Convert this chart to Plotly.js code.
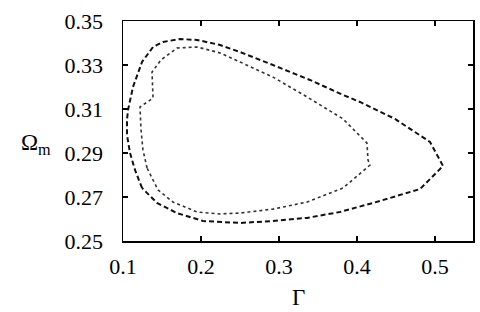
<!DOCTYPE html>
<html>
<head>
<meta charset="utf-8">
<script src="https://cdn.plot.ly/plotly-3.0.1.min.js"></script>
<style>html,body{margin:0;padding:0;background:#fff;}#chart{width:480px;height:312px;}</style>
</head>
<body>
<div id="chart"></div>
<script>
// Outer contour (dashed)
const outerGamma = [0.1244,0.1154,0.1090,0.1051,0.1051,0.1064,0.1128,0.1244,0.1385,0.1513,0.1731,0.1949,0.2244,0.2500,0.2923,0.3397,0.3821,0.4038,0.4487,0.4936,0.5103,0.4808,0.4205,0.3782,0.3359,0.2923,0.2500,0.2026,0.1692,0.1436,0.1244];
const outerOmega = [0.2741,0.2823,0.2900,0.2982,0.3050,0.3095,0.3200,0.3314,0.3382,0.3405,0.3418,0.3414,0.3391,0.3359,0.3300,0.3232,0.3164,0.3132,0.3055,0.2950,0.2841,0.2736,0.2673,0.2632,0.2605,0.2591,0.2582,0.2591,0.2627,0.2673,0.2741];
// Inner contour (dotted)
const innerGamma = [0.1308,0.1256,0.1231,0.1218,0.1385,0.1372,0.1487,0.1692,0.1949,0.2244,0.2500,0.2923,0.3359,0.3821,0.4128,0.4141,0.4167,0.3821,0.3359,0.2923,0.2500,0.2244,0.1949,0.1641,0.1449,0.1308];
const innerOmega = [0.2832,0.2914,0.3005,0.3109,0.3150,0.3268,0.3323,0.3377,0.3382,0.3355,0.3314,0.3245,0.3155,0.3055,0.2945,0.2868,0.2845,0.2741,0.2677,0.2645,0.2627,0.2623,0.2632,0.2677,0.2732,0.2832];
const xTicks = [0.1,0.2,0.3,0.4,0.5];
const xTickText = ['0.1','0.2','0.3','0.4','0.5'];
const yTicks = [0.25,0.27,0.29,0.31,0.33,0.35];
const yTickText = ['0.25','0.27','0.29','0.31','0.33','0.35'];

const serif = "'Liberation Serif', 'Times New Roman', Times, serif";
const traces = [
  {x: outerGamma, y: outerOmega, mode: 'lines', type: 'scatter',
   line: {color: '#111', width: 2, dash: '5px,3px'}, hoverinfo: 'skip'},
  {x: innerGamma, y: innerOmega, mode: 'lines', type: 'scatter',
   line: {color: '#333', width: 1.6, dash: 'dot'}, hoverinfo: 'skip'}
];
function axisCommon() {
  return {
    showgrid: false, zeroline: false, showline: true, linecolor: '#000', linewidth: 1.5,
    ticks: 'inside', ticklen: 5, tickwidth: 1.2, tickcolor: '#000', mirror: 'ticks',
    tickfont: {family: serif, size: 22, color: '#000'}
  };
}
const layout = {
  width: 480, height: 312,
  margin: {l: 123, r: 7, t: 21, b: 71},
  paper_bgcolor: '#fff', plot_bgcolor: '#fff',
  font: {family: serif, color: '#000'},
  showlegend: false,
  xaxis: Object.assign(axisCommon(), {range: [0.1, 0.5487], tickvals: xTicks, ticktext: xTickText, ticklabelstandoff: 5}),
  yaxis: Object.assign(axisCommon(), {range: [0.25, 0.35], tickvals: yTicks, ticktext: yTickText, ticklabelstandoff: 14}),
  annotations: [
    {text: 'Ω<sub>m</sub>', xref: 'paper', yref: 'paper', x: -0.25, y: 0.44, showarrow: false,
     xanchor: 'center', yanchor: 'middle', font: {family: serif, size: 23, color: '#000'}},
    {text: 'Γ', xref: 'paper', yref: 'paper', x: 0.5, y: -0.255, showarrow: false,
     xanchor: 'center', yanchor: 'middle', font: {family: serif, size: 23, color: '#000'}}
  ]
};
Plotly.newPlot('chart', traces, layout, {staticPlot: true, displayModeBar: false});
</script>
</body>
</html>
